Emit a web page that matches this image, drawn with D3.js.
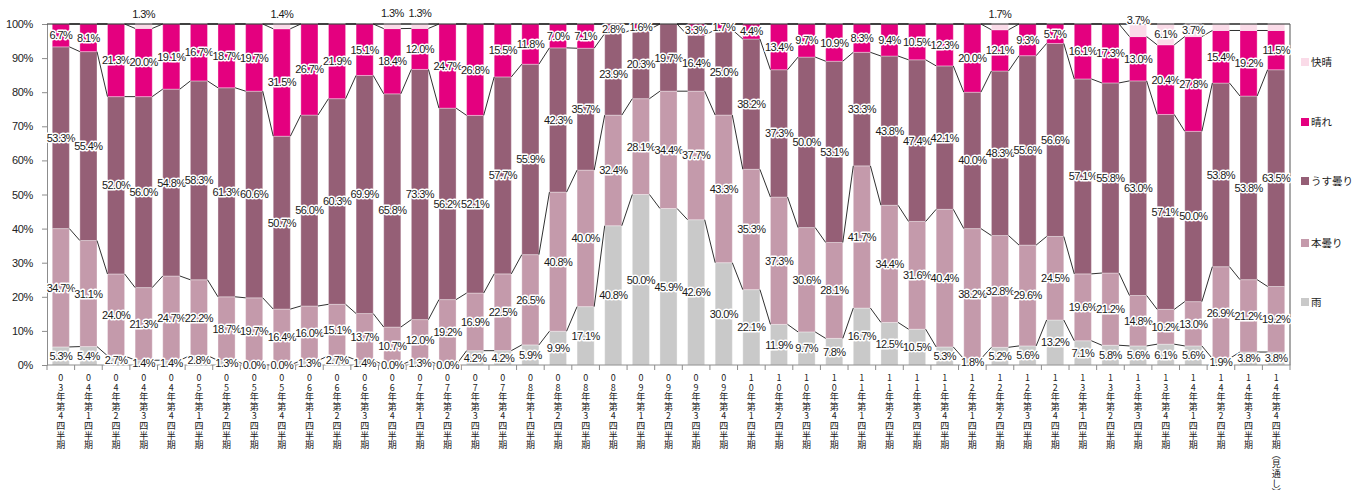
<!doctype html>
<html>
<head>
    <meta charset="utf-8"/>
    <style>
        body { margin: 0; background: #fff; }
        svg { display: block; }
        .lbl { font-family: "Liberation Sans", Arial, sans-serif; font-size: 11px; letter-spacing: -0.6px;
               fill: #1a1a1a; stroke: #fff; stroke-width: 3px; stroke-linejoin: round; paint-order: stroke; text-anchor: middle; }
        .ytick text { font-family: "Liberation Sans", Arial, sans-serif; font-size: 11px; fill: #222; letter-spacing: -0.3px; }
        .xlab { font-family: "Noto Sans CJK JP", sans-serif; font-size: 9px; fill: #222; text-anchor: middle; }
        .legend text { font-family: "Noto Sans CJK JP", sans-serif; font-size: 10.5px; fill: #222; }
    </style>
    <script src="https://d3js.org/d3.v7.min.js"></script>
</head>
<body>
<svg width="1354" height="490"></svg>

<script>

    // quarters (x categories)
    var categories = [
        "03年第4四半期",
        "04年第1四半期", "04年第2四半期", "04年第3四半期", "04年第4四半期",
        "05年第1四半期", "05年第2四半期", "05年第3四半期", "05年第4四半期",
        "06年第1四半期", "06年第2四半期", "06年第3四半期", "06年第4四半期",
        "07年第1四半期", "07年第2四半期", "07年第3四半期", "07年第4四半期",
        "08年第1四半期", "08年第2四半期", "08年第3四半期", "08年第4四半期",
        "09年第1四半期", "09年第2四半期", "09年第3四半期", "09年第4四半期",
        "10年第1四半期", "10年第2四半期", "10年第3四半期", "10年第4四半期",
        "11年第1四半期", "11年第2四半期", "11年第3四半期", "11年第4四半期",
        "12年第1四半期", "12年第2四半期", "12年第3四半期", "12年第4四半期",
        "13年第1四半期", "13年第2四半期", "13年第3四半期", "13年第4四半期",
        "14年第1四半期", "14年第2四半期", "14年第3四半期", "14年第4四半期(見通し)"
    ];

    // series values (%), bottom to top; null = no entry
    var rain = [5.3, 5.4, 2.7, 1.4, 1.4, 2.8, 1.3, 0.0, 0.0, 1.3, 2.7, 1.4, 0.0, 1.3, 0.0, 4.2, 4.2, 5.9, 9.9, 17.1,
        40.8, 50.0, 45.9, 42.6, 30.0, 22.1, 11.9, 9.7, 7.8, 16.7, 12.5, 10.5, 5.3, 1.8, 5.2, 5.6, 13.2, 7.1, 5.8, 5.6,
        6.1, 5.6, 1.9, 3.8, 3.8];
    var overcast = [34.7, 31.1, 24.0, 21.3, 24.7, 22.2, 18.7, 19.7, 16.4, 16.0, 15.1, 13.7, 10.7, 12.0, 19.2, 16.9, 22.5, 26.5, 40.8, 40.0,
        32.4, 28.1, 34.4, 37.7, 43.3, 35.3, 37.3, 30.6, 28.1, 41.7, 34.4, 31.6, 40.4, 38.2, 32.8, 29.6, 24.5, 19.6, 21.2, 14.8,
        10.2, 13.0, 26.9, 21.2, 19.2];
    var thinCloud = [53.3, 55.4, 52.0, 56.0, 54.8, 58.3, 61.3, 60.6, 50.7, 56.0, 60.3, 69.9, 65.8, 73.3, 56.2, 52.1, 57.7, 55.9, 42.3, 35.7,
        23.9, 20.3, 19.7, 16.4, 25.0, 38.2, 37.3, 50.0, 53.1, 33.3, 43.8, 47.4, 42.1, 40.0, 48.3, 55.6, 56.6, 57.1, 55.8, 63.0,
        57.1, 50.0, 53.8, 53.8, 63.5];
    var sunny = [6.7, 8.1, 21.3, 20.0, 19.1, 16.7, 18.7, 19.7, 31.5, 26.7, 21.9, 15.1, 18.4, 12.0, 24.7, 26.8, 15.5, 11.8, 7.0, 7.1,
        2.8, 1.6, null, 3.3, 1.7, 4.4, 13.4, 9.7, 10.9, 8.3, 9.4, 10.5, 12.3, 20.0, 12.1, 9.3, 5.7, 16.1, 17.3, 13.0,
        20.4, 27.8, 15.4, 19.2, 11.5];
    var clear = [null, null, null, 1.3, null, null, null, null, 1.4, null, null, null, 1.3, 1.3, null, null, null, null, null, null,
        null, null, null, null, null, null, null, null, null, null, null, null, null, null, 1.7, null, null, null, null, 3.7,
        6.1, 3.7, 1.9, 1.9, 1.9];

    var keys = ["雨", "本曇り", "うす曇り", "晴れ", "快晴"];
    var colors = ["#c9c9c9", "#c49aab", "#955f76", "#e4007f", "#fadbe8"];
    var seriesValues = [rain, overcast, thinCloud, sunny, clear];

    // 快晴 labels Excel pushed above the plot (px above the top) / left unlabelled
    var liftedLabels = {"04年第3四半期": 10, "05年第4四半期": 10, "06年第4四半期": 11, "07年第1四半期": 11,
        "12年第2四半期": 10, "13年第3四半期": 4};
    var unlabeled = ["14年第2四半期", "14年第3四半期", "14年第4四半期(見通し)"];

    (function() {
        var rows = categories.map(function(c, i) {
            var r = {cat: c};
            keys.forEach(function(k, j) { r[k] = seriesValues[j][i]; });
            return r;
        });

        var svg = d3.select("svg");
        var plotLeft = 47, plotRight = 1290, plotTop = 24, plotBottom = 365;

        var x = d3.scaleBand().domain(categories).range([plotLeft, plotRight]).paddingInner(0.38).paddingOuter(0.19);
        var y = d3.scaleLinear().domain([0, 1]).range([plotBottom, plotTop]);
        var bw = x.bandwidth();
        var color = d3.scaleOrdinal().domain(keys).range(colors);

        var stacked = d3.stack()
            .keys(keys)
            .value(function(d, k) { return d[k] || 0; })
            .offset(d3.stackOffsetExpand)(rows);

        // y axis
        var yAxis = svg.append("g")
            .attr("class", "ytick")
            .attr("transform", "translate(" + plotLeft + ",0)")
            .call(d3.axisLeft(y).tickValues(d3.range(0, 11).map(function(v) { return v / 10; }))
                .tickFormat(d3.format(".0%")).tickSize(5).tickPadding(9));
        yAxis.select(".domain").attr("stroke", "#8c8c8c");
        yAxis.selectAll(".tick line").attr("stroke", "#8c8c8c");

        // bars
        svg.append("g").selectAll("g")
            .data(stacked)
            .join("g")
            .attr("fill", function(s) { return color(s.key); })
            .selectAll("rect")
            .data(function(s) { return s; })
            .join("rect")
            .attr("x", function(d) { return x(d.data.cat); })
            .attr("y", function(d) { return y(d[1]); })
            .attr("width", bw)
            .attr("height", function(d) { return y(d[0]) - y(d[1]); })
            .attr("stroke", "rgba(255,255,255,0.35)")
            .attr("stroke-width", 1);

        // series lines between neighbouring bars
        var seg = [];
        stacked.forEach(function(s) {
            for (var i = 0; i < s.length - 1; i++) {
                seg.push({x1: x(s[i].data.cat) + bw, y1: y(s[i][1]), x2: x(s[i + 1].data.cat), y2: y(s[i + 1][1])});
            }
        });
        svg.append("g").selectAll("line")
            .data(seg)
            .join("line")
            .attr("x1", function(d) { return d.x1; })
            .attr("y1", function(d) { return d.y1; })
            .attr("x2", function(d) { return d.x2; })
            .attr("y2", function(d) { return d.y2; })
            .attr("stroke", "#1a1a1a")
            .attr("stroke-width", 0.9);

        // plot frame (top / right) and x axis line
        svg.append("line").attr("x1", plotLeft).attr("x2", plotRight).attr("y1", plotTop).attr("y2", plotTop)
            .attr("stroke", "#222").attr("stroke-width", 1);
        svg.append("line").attr("x1", plotRight).attr("x2", plotRight).attr("y1", plotTop).attr("y2", plotBottom)
            .attr("stroke", "#555").attr("stroke-width", 1);
        svg.append("line").attr("x1", plotLeft).attr("x2", plotRight + 0.5).attr("y1", plotBottom).attr("y2", plotBottom)
            .attr("stroke", "#8c8c8c").attr("stroke-width", 1);

        // x ticks at category boundaries
        var gap = (x.step() - bw) / 2;
        var bounds = categories.map(function(c) { return x(c) - gap; })
            .concat([x(categories[categories.length - 1]) + bw + gap]);
        svg.append("g").selectAll("line")
            .data(bounds)
            .join("line")
            .attr("x1", function(d) { return d; })
            .attr("x2", function(d) { return d; })
            .attr("y1", plotBottom)
            .attr("y2", plotBottom + 5)
            .attr("stroke", "#8c8c8c");

        // vertical category labels, one character per line
        svg.append("g").selectAll("g")
            .data(categories)
            .join("g")
            .selectAll("text")
            .data(function(c) {
                return Array.from(c.replace("(", "︵").replace(")", "︶")).map(function(ch) { return {ch: ch, cat: c}; });
            })
            .join("text")
            .attr("class", "xlab")
            .attr("x", function(d) { return x(d.cat) + bw / 2; })
            .attr("y", function(d, i) { return 381 + i * 9.6; })
            .text(function(d) { return d.ch; });

        // data labels
        var fmt = function(v) { return d3.format(".1f")(v) + "%"; };
        stacked.forEach(function(s) {
            svg.append("g").selectAll("text")
                .data(s.filter(function(d) {
                    var v = d.data[s.key];
                    if (v == null) return false;
                    if (s.key === "快晴" && unlabeled.indexOf(d.data.cat) >= 0) return false;
                    return true;
                }))
                .join("text")
                .attr("class", "lbl")
                .attr("x", function(d) { return x(d.data.cat) + bw / 2; })
                .attr("y", function(d) {
                    if (s.key === "快晴" && liftedLabels[d.data.cat] != null) return plotTop - liftedLabels[d.data.cat];
                    return (y(d[0]) + y(d[1])) / 2;
                })
                .attr("dy", "0.36em")
                .text(function(d) { return fmt(d.data[s.key]); });
        });

        // legend
        var legendY = [302, 243, 181, 122, 62];
        var legend = svg.append("g").attr("class", "legend")
            .selectAll("g")
            .data(keys)
            .join("g")
            .attr("transform", function(k, i) { return "translate(1301," + legendY[i] + ")"; });
        legend.append("rect")
            .attr("x", 0).attr("y", -4).attr("width", 8).attr("height", 8)
            .attr("fill", function(k) { return color(k); });
        legend.append("text")
            .attr("x", 10).attr("dy", "0.36em")
            .text(function(k) { return k; });
    })();

</script>
</body>
</html>
